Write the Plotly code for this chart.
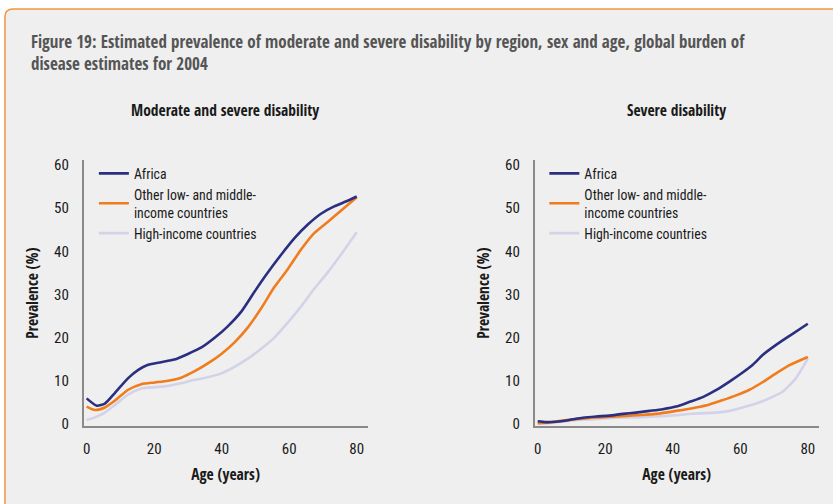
import plotly.graph_objects as go

# ---- data ----
age_l_africa = [0, 3, 5.4, 8.4, 12.3, 15.3, 18.2, 22, 26, 30, 34, 38, 41.8, 45.8, 49.7, 53.6, 57.6, 61.5, 65.5, 69.4, 73.3, 77.3, 80]
mod_africa = [5.9, 4.2, 4.7, 7.2, 10.6, 12.5, 13.7, 14.3, 14.9, 16.2, 17.7, 20, 22.6, 26, 30.6, 35, 39.2, 43, 46.2, 48.7, 50.4, 51.7, 52.7]

age_l_other = [0, 2.5, 5.4, 8.4, 12.3, 16.2, 20.2, 24.1, 28, 32, 35.9, 39.9, 43.8, 47.7, 51.7, 55.6, 59.5, 63.5, 67.4, 71.4, 75.3, 80]
mod_other = [4.0, 3.2, 3.8, 5.4, 7.9, 9.2, 9.6, 10, 10.7, 12.2, 14, 16.2, 18.9, 22.3, 26.8, 31.7, 35.8, 40.4, 44.2, 46.8, 49.4, 52.5]
mod_high = [0.9, 1.5, 2.6, 4.4, 6.8, 8.2, 8.5, 8.8, 9.4, 10.2, 10.8, 11.7, 13.2, 15.1, 17.4, 20, 23.4, 27.2, 31.3, 35.1, 39.2, 44.4]

age_r_africa = [0, 2.5, 5.4, 9.4, 13.3, 17.3, 21.2, 25.2, 29.1, 33.1, 37, 41, 45, 48.9, 52.8, 56.8, 60.7, 63.7, 66.7, 70.6, 74.6, 80]
sev_africa = [0.6, 0.4, 0.5, 0.9, 1.4, 1.7, 1.9, 2.3, 2.6, 3.0, 3.4, 4.0, 5.1, 6.2, 7.8, 9.8, 11.9, 13.7, 16.0, 18.3, 20.4, 23.2]

age_r_other = [0, 3.5, 7.4, 11.4, 17.3, 23.2, 29.1, 35, 41, 46.9, 50.9, 54.8, 58.8, 62.7, 66.7, 70.6, 74.6, 80]
sev_other = [0.15, 0.3, 0.75, 1.1, 1.5, 1.7, 2.0, 2.3, 3.0, 3.8, 4.5, 5.5, 6.6, 7.9, 9.7, 11.7, 13.6, 15.5]

age_r_high = [0, 3.5, 7.4, 11.4, 17.3, 23.2, 29.1, 35, 41, 46.9, 52.8, 56.8, 60.7, 64.7, 68.6, 72.6, 76.5, 80]
sev_high = [0, 0.15, 0.5, 0.9, 1.1, 1.4, 1.5, 1.7, 2.0, 2.4, 2.6, 3.0, 3.8, 4.7, 5.9, 7.5, 10.6, 15.1]

names = ["Africa", "Other low- and middle-<br>income countries", "High-income countries"]
colors = ["#2b2f80", "#f07c1c", "#d2d3e8"]
x_ticks = [0, 20, 40, 60, 80]
y_ticks = [0, 10, 20, 30, 40, 50, 60]

FONT = "Roboto Condensed, sans-serif"
BFONT = "Open Sans Condensed, Roboto Condensed, sans-serif"
BG = "#efefef"
TXT = "#1a1a1a"

fig = go.Figure()

left = [(age_l_africa, mod_africa), (age_l_other, mod_other), (age_l_other, mod_high)]
right = [(age_r_africa, sev_africa), (age_r_other, sev_other), (age_r_high, sev_high)]

for i in (2, 1, 0):
    x, y = left[i]
    fig.add_trace(go.Scatter(x=x, y=y, mode="lines", name=names[i],
                             line=dict(color=colors[i], width=2.6, shape="spline", smoothing=0.6),
                             xaxis="x", yaxis="y", legend="legend", legendrank=i + 1))
for i in (2, 1, 0):
    x, y = right[i]
    fig.add_trace(go.Scatter(x=x, y=y, mode="lines", name=names[i],
                             line=dict(color=colors[i], width=2.6, shape="spline", smoothing=0.6),
                             xaxis="x2", yaxis="y2", legend="legend2", legendrank=i + 1))

W, H = 833, 504
ax_common = dict(showgrid=False, zeroline=False, showline=True, linecolor="#8a8a8a", linewidth=1.5,
                 ticks="", tickfont=dict(family=FONT, size=15, color=TXT))
xr = [-0.9, 83.2]
yr = [-0.6, 61.2]
ydom = [1 - 432 / H, 1 - 160 / H]
xtitle = dict(text="Age (years)", font=dict(family=BFONT, size=15.5, color=TXT), standoff=12)
ytitle = dict(text="Prevalence (%)", font=dict(family=BFONT, size=15.5, color=TXT), standoff=12)
legfont = dict(family=FONT, size=13.8, color=TXT)

fig.update_layout(
    width=W, height=H, margin=dict(l=0, r=0, t=0, b=0),
    paper_bgcolor="white", plot_bgcolor=BG,
    font=dict(family=FONT, color=TXT),
    xaxis=dict(domain=[82.7 / W, 367 / W], range=xr, tickvals=x_ticks, anchor="y", ticklabelstandoff=8,
               title=xtitle, **ax_common),
    yaxis=dict(domain=ydom, range=yr, tickvals=y_ticks, anchor="x", ticklabelstandoff=10,
               title=ytitle, **ax_common),
    xaxis2=dict(domain=[534.3 / W, 818.6 / W], range=xr, tickvals=x_ticks, anchor="y2", ticklabelstandoff=8,
                title=xtitle, **ax_common),
    yaxis2=dict(domain=ydom, range=yr, tickvals=y_ticks, anchor="x2", ticklabelstandoff=10,
                title=ytitle, **ax_common),
    legend=dict(x=93 / W, y=1 - 158 / H, xanchor="left", yanchor="top", bgcolor="rgba(0,0,0,0)",
                font=legfont, tracegroupgap=0, itemwidth=30, traceorder="normal"),
    legend2=dict(x=544 / W, y=1 - 158 / H, xanchor="left", yanchor="top", bgcolor="rgba(0,0,0,0)",
                 font=legfont, tracegroupgap=0, itemwidth=30, traceorder="normal"),
    shapes=[dict(type="path", xref="paper", yref="paper", layer="below",
                 path=f"M {4/W} -0.1 L {4/W} {1-14/H} Q {4/W} {1-6/H} {12/W} {1-6/H} L 1.1 {1-6/H} L 1.1 -0.1 Z",
                 fillcolor=BG, line=dict(color="#f2953f", width=1.5))],
    annotations=[
        dict(text="Figure 19: Estimated prevalence of moderate and severe disability by region, sex and age, global burden of<br>disease estimates for 2004",
             xref="paper", yref="paper", x=28 / W, y=1 - 25 / H, xanchor="left", yanchor="top", align="left",
             showarrow=False, font=dict(family=BFONT, size=17, color="#555555")),
        dict(text="Moderate and severe disability", xref="paper", yref="paper", x=224 / W, y=1 - 109 / H,
             xanchor="center", yanchor="middle", showarrow=False, font=dict(family=BFONT, size=15.5, color=TXT)),
        dict(text="Severe disability", xref="paper", yref="paper", x=676 / W, y=1 - 109 / H,
             xanchor="center", yanchor="middle", showarrow=False, font=dict(family=BFONT, size=15.5, color=TXT)),
    ],
)

fig.write_html("out.html", config={"displayModeBar": False},
               post_script="document.documentElement.style.overflow='hidden';"
                           "document.body.style.overflow='hidden';"
                           "document.body.style.margin='0';document.body.style.padding='0';")
